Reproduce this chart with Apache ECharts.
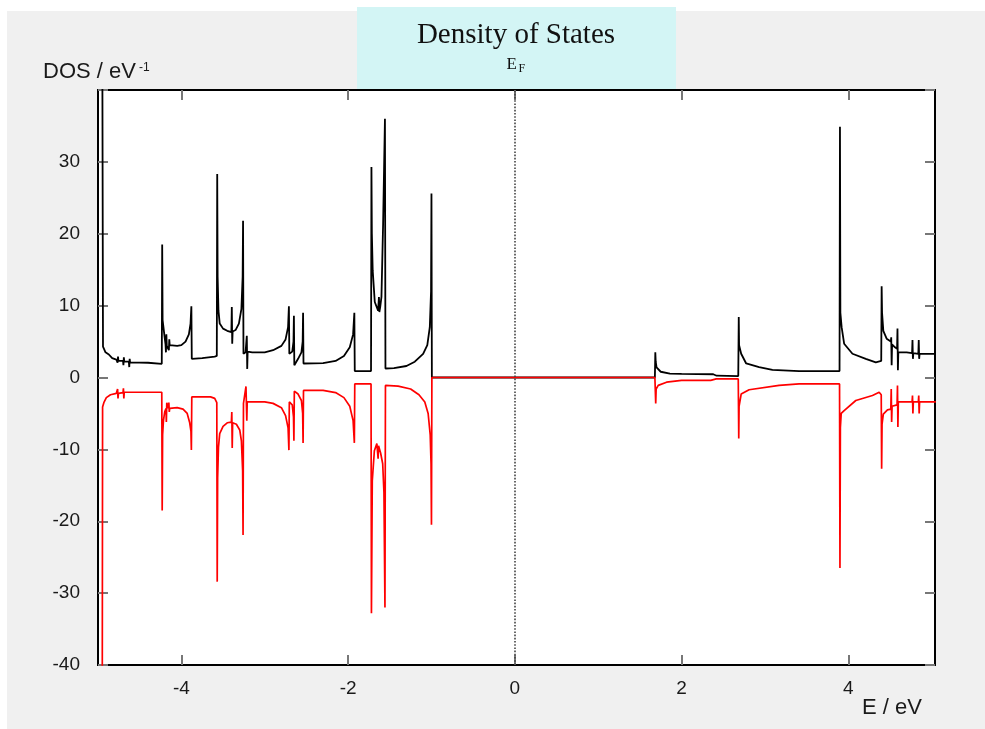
<!DOCTYPE html>
<html><head><meta charset="utf-8">
<script src="https://cdn.jsdelivr.net/npm/echarts@6/dist/echarts.min.js"></script>
<style>html,body{margin:0;padding:0;background:#fff}#c{width:985px;height:729px}</style>
</head><body><div id="c"></div>
<script>
// ---- data ----
const xTickValues = [-4, -2, 0, 2, 4];
const yTickInterval = 10;
const fermiEnergy = 0;

// spin-up DOS [E (eV), DOS (1/eV)]
const spinUp = [
[-4.95,55],[-4.94,4.3],[-4.91,3.5],[-4.87,3.2],[-4.83,2.7],[-4.78,2.5],[-4.765,2.05],[-4.76,2.9],[-4.755,2.3],
[-4.70,2.3],[-4.695,1.7],[-4.69,2.8],[-4.685,2.2],[-4.63,2.2],[-4.625,1.45],[-4.62,2.6],[-4.615,2.1],[-4.40,2.05],
[-4.235,1.9],[-4.23,18.5],[-4.225,8],[-4.215,7],[-4.20,5.5],[-4.19,4.6],[-4.185,3.5],[-4.18,6.0],[-4.175,4.4],
[-4.16,4.6],[-4.15,3.8],[-4.145,5.3],[-4.14,4.5],[-4.05,4.4],[-4.0,4.5],[-3.95,5.0],[-3.91,6.0],[-3.89,7.5],
[-3.88,9.9],[-3.875,2.6],[-3.75,2.7],[-3.6,2.9],[-3.575,3.0],[-3.57,28.3],[-3.565,14],[-3.555,9.3],[-3.54,7.5],
[-3.50,6.8],[-3.45,6.5],[-3.40,6.3],[-3.395,9.8],[-3.39,4.7],[-3.385,6.4],[-3.35,6.6],[-3.31,7.5],[-3.28,9.5],
[-3.265,14],[-3.26,21.8],[-3.255,3.3],[-3.23,3.5],[-3.215,5.8],[-3.21,1.2],[-3.205,3.6],[-3.15,3.5],[-3.0,3.5],
[-2.9,3.8],[-2.8,4.4],[-2.75,5.3],[-2.72,7],[-2.71,9.9],[-2.705,3.3],[-2.67,3.6],[-2.655,5],[-2.65,8.6],
[-2.645,1.7],[-2.6,2.6],[-2.56,3.5],[-2.545,5],[-2.54,9.0],[-2.535,1.95],[-2.3,2.0],[-2.15,2.3],[-2.05,3.0],
[-1.98,4.2],[-1.94,6.0],[-1.925,9.0],[-1.92,0.9],[-1.725,0.9],[-1.72,29.3],[-1.715,20],[-1.705,14.9],[-1.68,10.5],
[-1.64,9.3],[-1.63,11.2],[-1.625,9.1],[-1.615,9.8],[-1.60,11.2],[-1.58,21.4],[-1.558,36],[-1.552,1.25],[-1.45,1.3],
[-1.3,1.6],[-1.2,2.2],[-1.1,3.3],[-1.05,4.5],[-1.02,7],[-1.005,12],[-1.0,25.6],[-0.995,0],[1.68,0],
[1.685,3.5],[1.69,2.2],[1.70,1.4],[1.75,0.8],[1.86,0.55],[2.0,0.5],[2.38,0.45],[2.42,0.25],[2.68,0.2],
[2.686,8.4],[2.69,4.5],[2.715,3.3],[2.775,1.95],[2.93,1.45],[3.09,1.07],[3.41,0.9],[3.895,0.9],[3.9,34.9],
[3.905,9],[3.92,7.0],[3.95,4.7],[4.05,3.3],[4.21,2.6],[4.33,2.1],[4.395,2.3],[4.40,12.7],[4.405,9],
[4.42,6.5],[4.46,5.4],[4.51,5.0],[4.515,5.6],[4.52,1.7],[4.525,4.6],[4.56,4.2],[4.585,4.0],[4.59,6.8],
[4.595,1.0],[4.60,3.5],[4.70,3.5],[4.765,3.4],[4.77,5.2],[4.775,2.6],[4.78,3.4],[4.84,3.3],[4.845,5.2],
[4.85,2.6],[4.855,3.3],[5.05,3.3]
];

// spin-down DOS [E (eV), DOS (1/eV)]
const spinDown = [
[-4.95,-55],[-4.945,-4.1],[-4.93,-3.5],[-4.90,-2.8],[-4.85,-2.4],[-4.78,-2.2],[-4.765,-1.6],[-4.76,-2.9],[-4.755,-2.2],
[-4.70,-2.1],[-4.695,-1.5],[-4.69,-2.9],[-4.685,-2.05],[-4.60,-2.05],[-4.40,-2.05],[-4.235,-2.05],[-4.23,-18.5],
[-4.225,-8],[-4.215,-6],[-4.20,-4.8],[-4.185,-4.3],[-4.18,-6.2],[-4.175,-3.5],[-4.165,-4.3],[-4.15,-3.5],[-4.145,-4.8],
[-4.14,-4.3],[-4.05,-4.2],[-3.98,-4.4],[-3.93,-5.0],[-3.90,-6.3],[-3.885,-7.5],[-3.88,-10.1],[-3.875,-2.7],[-3.65,-2.7],
[-3.60,-2.9],[-3.575,-3.5],[-3.57,-28.4],[-3.565,-14],[-3.555,-9.7],[-3.54,-7.8],[-3.50,-6.8],[-3.45,-6.3],[-3.40,-6.2],
[-3.395,-4.8],[-3.39,-9.8],[-3.385,-6.3],[-3.34,-6.5],[-3.30,-7.3],[-3.28,-8.8],[-3.265,-13],[-3.26,-21.9],[-3.255,-3.6],
[-3.235,-3.5],[-3.225,-1.25],[-3.215,-6.0],[-3.21,-3.4],[-3.15,-3.4],[-3.0,-3.4],[-2.9,-3.6],[-2.8,-4.2],[-2.75,-5.3],
[-2.72,-7],[-2.71,-10.1],[-2.705,-3.4],[-2.67,-3.8],[-2.655,-5.5],[-2.65,-8.8],[-2.645,-1.9],[-2.60,-2.3],[-2.56,-3.2],
[-2.545,-5],[-2.54,-9.1],[-2.535,-1.8],[-2.3,-1.8],[-2.15,-2.1],[-2.05,-2.8],[-1.98,-4.0],[-1.94,-6.0],[-1.925,-9.1],
[-1.92,-0.9],[-1.725,-0.9],[-1.72,-32.8],[-1.71,-14.4],[-1.685,-10.2],[-1.655,-9.2],[-1.645,-9.0],[-1.64,-11.3],
[-1.635,-9.5],[-1.61,-10.5],[-1.585,-12.0],[-1.57,-16],[-1.558,-32.0],[-1.552,-1.1],[-1.4,-1.2],[-1.25,-1.6],
[-1.15,-2.4],[-1.08,-3.4],[-1.04,-5],[-1.015,-8],[-1.005,-12],[-1.0,-20.5],[-0.995,0],[1.68,0],
[1.685,-0.2],[1.69,-3.6],[1.695,-1.6],[1.72,-1.1],[1.82,-0.65],[2.0,-0.4],[2.35,-0.4],[2.415,-0.2],[2.68,-0.2],
[2.686,-8.5],[2.69,-4],[2.715,-2.3],[2.81,-1.7],[3.17,-1.1],[3.41,-0.9],[3.895,-0.9],[3.9,-26.5],[3.905,-7],
[3.915,-5.0],[3.95,-4.6],[4.09,-3.2],[4.29,-2.5],[4.37,-2.05],[4.395,-2.4],[4.40,-12.7],[4.405,-6.5],[4.42,-5.1],
[4.47,-4.5],[4.51,-4.4],[4.515,-1.6],[4.52,-6.2],[4.525,-4.0],[4.585,-3.8],[4.59,-1.1],[4.595,-6.9],[4.60,-3.4],
[4.765,-3.4],[4.77,-2.5],[4.775,-5.0],[4.78,-3.4],[4.84,-3.4],[4.845,-2.5],[4.85,-5.0],[4.855,-3.4],[5.05,-3.4]
];

// ---- chart ----
const SANS = "'Liberation Sans', Arial, sans-serif";
const SERIF = "'Liberation Serif', 'Times New Roman', serif";
const tickStyle = {color: '#777', width: 2};
const chart = echarts.init(document.getElementById('c'), null, {renderer: 'canvas'});

const xCommon = {type: 'value', min: -5, max: 5.04, axisLine: {show: false, onZero: false}, splitLine: {show: false}};
const yCommon = {type: 'value', min: -40, max: 40, interval: yTickInterval, axisLine: {show: false, onZero: false}, splitLine: {show: false}};

chart.setOption({
  animation: false,
  backgroundColor: '#ffffff',
  graphic: [
    {type: 'rect', z: -10, shape: {x: 7, y: 11, width: 978, height: 718}, style: {fill: '#f0f0f0'}},
    {type: 'rect', z: 10, shape: {x: 357, y: 7, width: 319, height: 82}, style: {fill: '#d3f5f5'}},
    {type: 'text', z: 11, x: 516, y: 35, style: {text: 'Density of States', fontSize: 29, fontFamily: SERIF, fill: '#111', align: 'center', verticalAlign: 'middle'}},
    {type: 'text', z: 11, x: 506.5, y: 65, style: {text: 'E', fontSize: 17, fontFamily: SERIF, fill: '#111', align: 'left', verticalAlign: 'middle'}},
    {type: 'text', z: 11, x: 518.5, y: 68.5, style: {text: 'F', fontSize: 12, fontFamily: SERIF, fill: '#111', align: 'left', verticalAlign: 'middle'}},
    {type: 'text', z: 11, x: 43, y: 72, style: {text: 'DOS / eV', fontSize: 22, fontFamily: SANS, fill: '#1a1a1a', align: 'left', verticalAlign: 'middle'}},
    {type: 'text', z: 11, x: 139, y: 68, style: {text: '-1', fontSize: 12, fontFamily: SANS, fill: '#1a1a1a', align: 'left', verticalAlign: 'middle'}},
    {type: 'text', z: 11, x: 862, y: 708, style: {text: 'E / eV', fontSize: 22, fontFamily: SANS, fill: '#1a1a1a', align: 'left', verticalAlign: 'middle'}}
  ],
  grid: {left: 98, right: 50, top: 90, bottom: 64, show: true, backgroundColor: '#ffffff', borderColor: '#000', borderWidth: 2},
  xAxis: [
    Object.assign({}, xCommon, {position: 'bottom',
      axisTick: {inside: true, length: 10, customValues: xTickValues, lineStyle: tickStyle},
      axisLabel: {customValues: xTickValues, margin: 14, fontSize: 19, fontFamily: SANS, color: '#1a1a1a'}}),
    Object.assign({}, xCommon, {position: 'top',
      axisTick: {inside: true, length: 10, customValues: xTickValues, lineStyle: tickStyle},
      axisLabel: {show: false}})
  ],
  yAxis: [
    Object.assign({}, yCommon, {position: 'left',
      axisTick: {inside: true, length: 10, lineStyle: tickStyle},
      axisLabel: {margin: 18, fontSize: 19, fontFamily: SANS, color: '#1a1a1a',
        formatter: v => (v >= 40 ? '' : String(v))}}),
    Object.assign({}, yCommon, {position: 'right',
      axisTick: {inside: true, length: 10, lineStyle: tickStyle},
      axisLabel: {show: false}})
  ],
  series: [
    {type: 'line', name: 'up', data: spinUp, xAxisIndex: 0, yAxisIndex: 0, symbol: 'none', showSymbol: false, clip: true, z: 3,
      lineStyle: {color: '#000', width: 1.8},
      markLine: {silent: true, symbol: ['none', 'none'], label: {show: false},
        lineStyle: {color: '#444', type: 'dotted', width: 1.6}, data: [{xAxis: fermiEnergy}]}},
    {type: 'line', name: 'down', data: spinDown, xAxisIndex: 0, yAxisIndex: 0, symbol: 'none', showSymbol: false, clip: true, z: 4,
      lineStyle: {color: '#ff0000', width: 1.7}}
  ]
});
</script>
</body></html>
